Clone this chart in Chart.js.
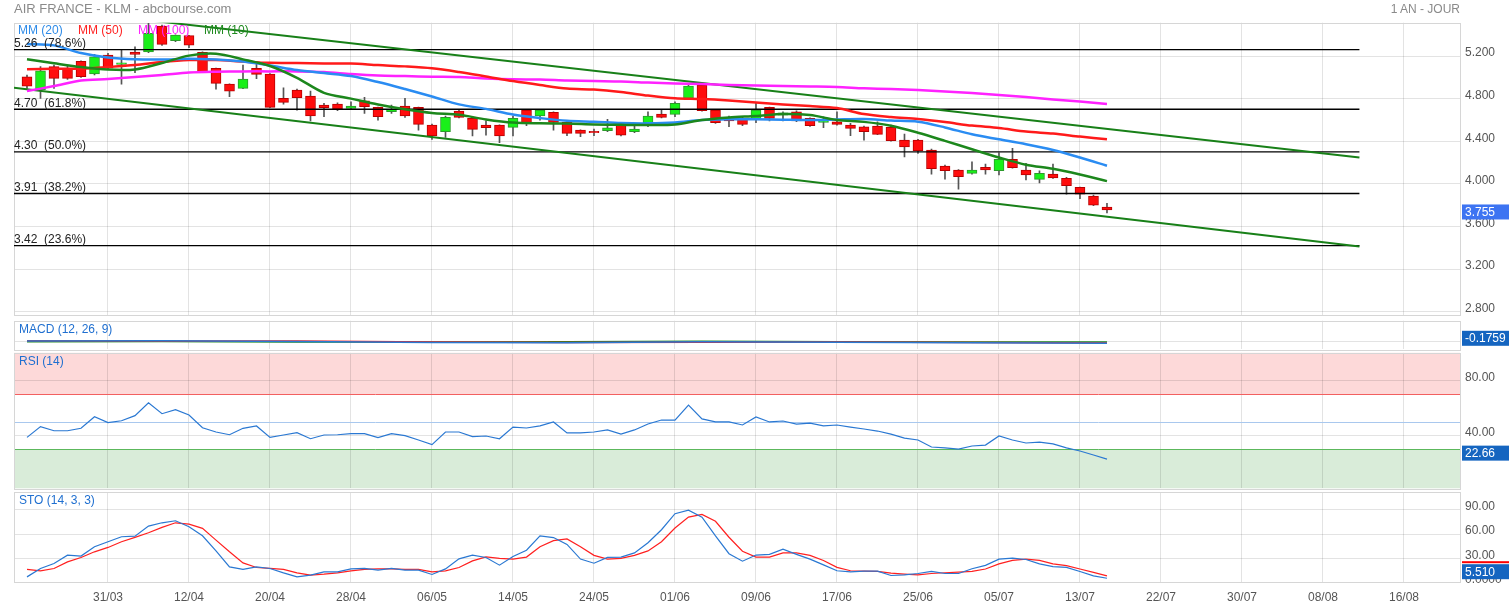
<!DOCTYPE html>
<html>
<head>
<meta charset="utf-8">
<title>AIR FRANCE - KLM</title>
<script src="https://cdn.jsdelivr.net/npm/chart.js@4.4.0/dist/chart.umd.min.js"></script>
<style>
  body { margin: 0; background: #fff; }
  #wrap { position: relative; width: 1509px; height: 607px; overflow: hidden; font-family: "Liberation Sans", Arial, sans-serif; }
  #wrap canvas { position: absolute; left: 0; top: 0; }
  .lbl { position: absolute; white-space: nowrap; font-size: 12px; line-height: 14px; z-index: 5; }
</style>
</head>
<body>
<div id="wrap">
  <canvas id="mainChart" width="1509" height="607"></canvas>
  <canvas id="macdChart" width="1509" height="607"></canvas>
  <canvas id="rsiChart" width="1509" height="607"></canvas>
  <canvas id="stoChart" width="1509" height="607"></canvas>
  <div class="lbl" style="left:14px;top:1px;font-size:13px;line-height:16px;color:#8a8a8a">AIR FRANCE - KLM - abcbourse.com</div>
  <div class="lbl" style="right:49px;top:2px;color:#8a8a8a">1 AN - JOUR</div>
  <div class="lbl" style="left:18px;top:23px;color:#2e8be8">MM (20)</div>
  <div class="lbl" style="left:78px;top:23px;color:#ff2222">MM (50)</div>
  <div class="lbl" style="left:138px;top:23px;color:#ff22ff">MM (100)</div>
  <div class="lbl" style="left:204px;top:23px;color:#1f8a1f">MM (10)</div>
  <div class="lbl" style="left:19px;top:322px;color:#1f6fd0">MACD (12, 26, 9)</div>
  <div class="lbl" style="left:19px;top:354px;color:#1f6fd0">RSI (14)</div>
  <div class="lbl" style="left:19px;top:493px;color:#1f6fd0">STO (14, 3, 3)</div>
</div>
<script>
// x axis: one slot per trading session, a date label every 6 sessions
const tickIndex = [6, 12, 18, 24, 30, 36, 42, 48, 54, 60, 66, 72, 78, 84, 90, 96, 102];
const tickLabels = ['31/03', '12/04', '20/04', '28/04', '06/05', '14/05', '24/05', '01/06', '09/06',
  '17/06', '25/06', '05/07', '13/07', '22/07', '30/07', '08/08', '16/08'];

// daily candles
const candleOpen = [5.006, 4.881, 5.100, 5.081, 5.150, 5.031, 5.209, 5.122, 5.238, 5.238,
  5.482, 5.344, 5.391, 5.235, 5.085, 4.937, 4.897, 5.085, 5.031, 4.803,
  4.881, 4.824, 4.740, 4.749, 4.709, 4.780, 4.718, 4.677, 4.731, 4.718,
  4.552, 4.489, 4.684, 4.615, 4.552, 4.552, 4.530, 4.693, 4.639, 4.671,
  4.580, 4.505, 4.493, 4.499, 4.549, 4.489, 4.574, 4.655, 4.653, 4.803,
  4.928, 4.693, 4.615, 4.615, 4.606, 4.718, 4.646, 4.677, 4.615, 4.577,
  4.583, 4.552, 4.536, 4.543, 4.530, 4.411, 4.411, 4.317, 4.167, 4.130,
  4.099, 4.155, 4.123, 4.230, 4.130, 4.042, 4.092, 4.052, 3.967, 3.885, 3.782];
const candleHigh = [5.022, 5.100, 5.115, 5.115, 5.155, 5.216, 5.225, 5.256, 5.287, 5.507,
  5.490, 5.400, 5.395, 5.240, 5.088, 4.940, 5.115, 5.146, 5.035, 4.902,
  4.890, 4.871, 4.756, 4.761, 4.771, 4.812, 4.720, 4.740, 4.803, 4.720,
  4.561, 4.637, 4.690, 4.620, 4.592, 4.555, 4.637, 4.695, 4.695, 4.677,
  4.583, 4.508, 4.514, 4.606, 4.568, 4.561, 4.677, 4.700, 4.771, 4.937,
  4.944, 4.695, 4.637, 4.630, 4.761, 4.720, 4.677, 4.686, 4.620, 4.630,
  4.677, 4.568, 4.543, 4.583, 4.552, 4.468, 4.418, 4.327, 4.177, 4.133,
  4.207, 4.186, 4.292, 4.333, 4.192, 4.123, 4.186, 4.061, 3.970, 3.895, 3.817];
const candleLow = [4.897, 4.803, 4.897, 4.981, 5.000, 5.022, 5.075, 4.937, 5.043, 5.231,
  5.300, 5.334, 5.278, 5.043, 4.890, 4.818, 4.893, 4.987, 4.715, 4.749,
  4.693, 4.590, 4.630, 4.686, 4.702, 4.662, 4.599, 4.662, 4.624, 4.505,
  4.418, 4.437, 4.620, 4.449, 4.458, 4.386, 4.449, 4.546, 4.599, 4.505,
  4.452, 4.442, 4.452, 4.489, 4.449, 4.480, 4.536, 4.620, 4.630, 4.800,
  4.683, 4.568, 4.536, 4.546, 4.574, 4.590, 4.590, 4.583, 4.540, 4.527,
  4.552, 4.452, 4.411, 4.462, 4.402, 4.254, 4.286, 4.092, 4.045, 3.951,
  4.092, 4.092, 4.083, 4.148, 4.036, 4.010, 4.052, 3.904, 3.860, 3.795, 3.728];
const candleClose = [4.918, 5.062, 4.991, 4.991, 5.006, 5.193, 5.085, 5.137, 5.216, 5.413,
  5.310, 5.397, 5.303, 5.053, 4.944, 4.871, 4.984, 5.028, 4.718, 4.765,
  4.810, 4.639, 4.715, 4.702, 4.731, 4.724, 4.630, 4.700, 4.639, 4.559,
  4.449, 4.624, 4.624, 4.512, 4.527, 4.449, 4.615, 4.574, 4.693, 4.577,
  4.474, 4.474, 4.480, 4.527, 4.458, 4.514, 4.637, 4.624, 4.756, 4.918,
  4.686, 4.574, 4.590, 4.559, 4.693, 4.615, 4.668, 4.590, 4.546, 4.599,
  4.559, 4.521, 4.489, 4.465, 4.405, 4.348, 4.311, 4.142, 4.123, 4.067,
  4.130, 4.130, 4.230, 4.151, 4.083, 4.099, 4.057, 3.982, 3.904, 3.801, 3.755];

// moving averages, read every second session
const maIndex = [0, 2, 4, 6, 8, 10, 12, 14, 16, 18, 20, 22, 24, 26, 28, 30, 32, 34, 36, 38, 40,
  42, 44, 46, 48, 50, 52, 54, 56, 58, 60, 62, 64, 66, 68, 70, 72, 74, 76, 78, 80];
const mm20 = [5.313, 5.300, 5.228, 5.186, 5.169, 5.167, 5.174, 5.167, 5.148, 5.111, 5.069,
  5.040, 5.012, 4.956, 4.890, 4.820, 4.746, 4.704, 4.651, 4.618, 4.592,
  4.583, 4.571, 4.568, 4.576, 4.599, 4.606, 4.606, 4.602, 4.599, 4.604,
  4.608, 4.594, 4.583, 4.530, 4.465, 4.418, 4.372, 4.318, 4.247, 4.170];
const mm50 = [5.075, 5.080, 5.083, 5.097, 5.115, 5.144, 5.162, 5.162, 5.148, 5.136, 5.134,
  5.130, 5.130, 5.115, 5.103, 5.085, 5.050, 5.008, 4.965, 4.928, 4.895,
  4.885, 4.862, 4.829, 4.803, 4.796, 4.782, 4.763, 4.745, 4.731, 4.712,
  4.655, 4.627, 4.608, 4.580, 4.547, 4.524, 4.491, 4.472, 4.444, 4.418];
const mm100 = [4.871, 4.918, 4.970, 4.984, 5.003, 5.022, 5.045, 5.053, 5.056, 5.056, 5.056,
  5.050, 5.031, 5.017, 5.012, 5.006, 5.003, 4.989, 4.981, 4.979, 4.970,
  4.965, 4.961, 4.951, 4.942, 4.937, 4.928, 4.923, 4.918, 4.914, 4.909,
  4.897, 4.890, 4.881, 4.867, 4.853, 4.834, 4.815, 4.792, 4.773, 4.749];
const mm10 = [5.169, 5.132, 5.097, 5.073, 5.074, 5.134, 5.204, 5.221, 5.169, 5.106, 4.995,
  4.855, 4.800, 4.745, 4.700, 4.665, 4.648, 4.605, 4.575, 4.568, 4.566,
  4.558, 4.554, 4.552, 4.557, 4.599, 4.624, 4.637, 4.655, 4.646, 4.599,
  4.582, 4.545, 4.480, 4.404, 4.325, 4.248, 4.180, 4.142, 4.088, 4.026];

// fibonacci retracements and trend channel
const fibLevels = [5.26, 4.70, 4.30, 3.91, 3.42];
const fibRatios = ['78.6%', '61.8%', '50.0%', '38.2%', '23.6%'];
const fibSpan = [-0.963, 98.7];
const channelUpper = [[5, 5.593], [98.7, 4.248]];
const channelLower = [[-0.963, 4.902], [98.7, 3.411]];

// MACD (12, 26, 9)
const macdIndex = [0, 10, 20, 30, 40, 50, 60, 70, 80];
const macdLine = [0.08, 0.10, 0.02, -0.08, -0.10, -0.02, -0.05, -0.12, -0.1759];
const macdSignal = [0.10, 0.08, 0.06, -0.04, -0.08, -0.06, -0.04, -0.09, -0.15];
const macdHist = [-0.02, 0.02, -0.04, -0.04, -0.02, 0.04, -0.01, -0.03, -0.03];

// RSI (14)
const rsi = [38.5, 46.3, 43.3, 43.3, 45.1, 53.5, 49.2, 50.6, 54.3, 63.7,
  55.7, 58.6, 54.8, 45.5, 42.4, 40.4, 45.1, 46.8, 38.5, 40.2,
  41.9, 37.5, 40.2, 40.4, 41.2, 41.2, 38.3, 41.2, 39.7, 36.6,
  33.2, 42.4, 42.4, 39.0, 39.5, 37.5, 46.0, 45.3, 46.8, 49.7,
  41.7, 41.7, 42.4, 43.9, 40.9, 43.9, 48.2, 51.1, 51.1, 62.0,
  51.9, 49.7, 49.7, 47.5, 53.3, 49.7, 50.4, 48.2, 48.9, 46.8,
  47.5, 46.0, 44.6, 43.1, 40.9, 38.0, 36.6, 31.5, 30.8, 30.0,
  32.2, 32.9, 39.5, 36.6, 34.4, 35.1, 33.7, 30.8, 28.6, 25.7, 22.66];
const rsiLevels = [70, 50, 30];

// STO (14, 3, 3)
const stoK = [7.2, 17.6, 23.8, 34.1, 32.9, 44.4, 50.6, 56.8, 57.6, 70.0,
  74.1, 76.6, 69.2, 58.0, 39.4, 19.6, 16.4, 19.6, 17.6, 12.1,
  7.2, 9.3, 13.4, 13.4, 17.1, 17.6, 15.5, 17.6, 15.5, 15.5,
  10.2, 17.1, 29.5, 34.1, 31.2, 21.7, 32.5, 40.1, 57.9, 55.8,
  47.3, 29.2, 24.1, 31.3, 31.7, 36.8, 49.4, 65.5, 85.3, 89.6,
  81.1, 57.9, 35.9, 26.6, 34.2, 35.1, 41.4, 35.1, 29.2, 22.0,
  14.8, 13.5, 14.4, 14.4, 8.9, 9.7, 11.4, 13.9, 11.4, 11.4,
  17.3, 21.5, 29.2, 30.4, 28.7, 23.2, 19.9, 19.0, 13.9, 8.4, 5.51];
const stoD = [16.4, 14.6, 17.6, 25.8, 31.2, 38.2, 43.6, 50.6, 56.0, 61.7,
  68.4, 74.1, 72.5, 67.2, 52.7, 38.2, 24.5, 18.8, 17.6, 16.4,
  12.1, 9.3, 10.5, 12.1, 14.6, 16.4, 17.1, 17.1, 16.4, 16.4,
  13.4, 14.6, 18.8, 27.0, 32.0, 30.0, 29.2, 31.7, 44.4, 52.0,
  54.1, 44.4, 33.8, 29.2, 30.0, 33.8, 39.3, 50.7, 67.6, 81.1,
  84.5, 76.0, 56.2, 38.9, 31.7, 31.7, 36.8, 36.8, 33.8, 27.5,
  19.0, 14.8, 14.4, 13.9, 11.8, 10.6, 9.7, 11.4, 12.3, 13.1,
  13.9, 16.9, 23.2, 27.5, 29.2, 27.5, 23.2, 21.1, 16.9, 12.7, 8.5];

// ---- layout ----
const FONT = '"Liberation Sans", Arial, sans-serif';
const H = 607, AXIS_W = 49, LEFT = 14;
const GRID = 'rgba(0,0,0,0.11)';

function xAxis(showLabels) {
  return {
    type: 'linear', min: -0.963, max: 106.15, offset: false,
    afterBuildTicks: s => { s.ticks = tickIndex.map(v => ({ value: v })); },
    afterFit: s => { s.height = showLabels ? 24 : 0; },
    grid: { color: GRID, drawTicks: false, offset: false },
    border: { display: false },
    ticks: {
      display: showLabels, autoSkip: false, maxRotation: 0, padding: 8,
      color: '#555', font: { size: 12, family: FONT },
      callback: v => tickLabels[tickIndex.indexOf(v)]
    }
  };
}

function yAxis(min, max, ticks, fmt) {
  return {
    position: 'right', min: min, max: max,
    afterBuildTicks: s => { s.ticks = ticks.map(v => ({ value: v })); },
    afterFit: s => { s.width = AXIS_W; },
    grid: { color: GRID, drawTicks: false },
    border: { display: false },
    ticks: {
      display: !!fmt, padding: 5, labelOffset: -3,
      color: '#555', font: { size: 12, family: FONT },
      callback: fmt || (() => '')
    }
  };
}

const frame = {
  id: 'frame',
  beforeDatasetsDraw(chart) {
    const a = chart.chartArea, c = chart.ctx;
    c.save();
    c.strokeStyle = '#d6d6d6';
    c.lineWidth = 1;
    c.strokeRect(Math.round(a.left) + 0.5, Math.round(a.top) + 0.5,
      Math.round(a.right - a.left), Math.round(a.bottom - a.top));
    c.restore();
  }
};

function valueBox(text, value, color, shift, marker) {
  return {
    id: 'valueBox',
    afterDraw(chart) {
      const a = chart.chartArea, c = chart.ctx;
      const cy = Math.min(chart.scales.y.getPixelForValue(value) + shift, a.bottom - 11);
      c.save();
      if (marker) {
        c.fillStyle = marker;
        c.fillRect(a.right + 2, cy - 10.5, AXIS_W, 2);
      }
      c.fillStyle = color;
      c.fillRect(a.right + 2, cy - 7.5, AXIS_W, 15);
      c.fillStyle = '#fff';
      c.font = '12px ' + FONT;
      c.textBaseline = 'middle';
      c.fillText(text, a.right + 5, cy + 0.5);
      c.restore();
    }
  };
}

function baseOptions(top, bottom, xLabels, yCfg) {
  return {
    responsive: false,
    animation: false,
    layout: { padding: { left: LEFT, right: 0, top: top, bottom: H - bottom - (xLabels ? 24 : 0) } },
    plugins: { legend: { display: false }, tooltip: { enabled: false } },
    scales: { x: xAxis(xLabels), y: yCfg }
  };
}

function line(xs, ys, color, width, order, tension) {
  return {
    type: 'line', data: xs.map((x, i) => ({ x: x, y: ys[i] })),
    borderColor: color, borderWidth: width, pointRadius: 0, tension: tension || 0,
    fill: false, order: order
  };
}

// ---- main price panel ----
const up = candleOpen.map((o, i) => candleClose[i] >= o);
const mainSets = [
  {
    type: 'bar', order: 20, grouped: false, barThickness: 1,
    data: candleOpen.map((_, i) => ({ x: i, y: [candleLow[i], candleHigh[i]] })),
    backgroundColor: '#555'
  },
  {
    type: 'bar', order: 19, grouped: false, barThickness: 10, minBarLength: 1,
    borderWidth: 1, borderSkipped: false,
    data: candleOpen.map((o, i) => ({ x: i, y: [o, candleClose[i]] })),
    backgroundColor: up.map(u => u ? '#19f019' : '#ff0d0d'),
    borderColor: up.map(u => u ? '#2c9a2c' : '#b90000')
  }
];
fibLevels.forEach(l => mainSets.push(line(fibSpan, [l, l], '#000', 1.4, 10)));
[channelUpper, channelLower].forEach(ch =>
  mainSets.push(line(ch.map(p => p[0]), ch.map(p => p[1]), '#188018', 2, 9)));
mainSets.push(line(maIndex, mm100, '#ff22ff', 2.5, 4, 0.3));
mainSets.push(line(maIndex, mm50, '#ff1a1a', 2.5, 3, 0.3));
mainSets.push(line(maIndex, mm20, '#2a8cf2', 2.5, 2, 0.3));
mainSets.push(line(maIndex, mm10, '#1c871c', 2.5, 1, 0.3));

const fibText = {
  id: 'fibText',
  afterDatasetsDraw(chart) {
    const c = chart.ctx, y = chart.scales.y, a = chart.chartArea;
    c.save();
    c.font = '12px ' + FONT;
    c.fillStyle = '#222';
    c.textBaseline = 'alphabetic';
    fibLevels.forEach((l, i) => {
      c.fillText(l.toFixed(2) + '  (' + fibRatios[i] + ')', a.left, y.getPixelForValue(l) - 2.5);
    });
    c.restore();
  }
};

new Chart(document.getElementById('mainChart'), {
  type: 'bar',
  data: { datasets: mainSets },
  options: baseOptions(22.7, 315, false,
    yAxis(2.769, 5.513, [2.8, 3.2, 3.6, 4.0, 4.4, 4.8, 5.2], v => v.toFixed(3))),
  plugins: [frame, fibText,
    valueBox(candleClose[candleClose.length - 1].toFixed(3), candleClose[candleClose.length - 1], '#3d74f2', 2)]
});

// ---- MACD panel ----
new Chart(document.getElementById('macdChart'), {
  type: 'line',
  data: {
    datasets: [
      line(macdIndex, macdHist, '#1f8a1f', 1.5, 3),
      line(macdIndex, macdSignal, '#ee2222', 1.5, 2),
      line(macdIndex, macdLine, '#2a78d2', 1.5, 1)
    ]
  },
  options: baseOptions(320.7, 349.3, false, yAxis(-0.8, 2.2, [0], null)),
  plugins: [frame, valueBox(macdLine[macdLine.length - 1].toFixed(4), macdLine[macdLine.length - 1], '#1565c0', 0)]
});

// ---- RSI panel ----
const rsiZones = {
  id: 'rsiZones',
  beforeDraw(chart) {
    const a = chart.chartArea, c = chart.ctx, y = chart.scales.y;
    const yHi = y.getPixelForValue(rsiLevels[0]), yLo = y.getPixelForValue(rsiLevels[2]);
    c.save();
    c.fillStyle = '#fdd9d9';
    c.fillRect(a.left, a.top, a.right - a.left, yHi - a.top);
    c.fillStyle = '#d9ecd9';
    c.fillRect(a.left, yLo, a.right - a.left, a.bottom - yLo);
    c.restore();
  },
  beforeDatasetsDraw(chart) {
    const a = chart.chartArea, c = chart.ctx, y = chart.scales.y;
    const cols = ['#f26060', '#a9c8ee', '#5cb85c'];
    c.save();
    c.lineWidth = 1;
    rsiLevels.forEach((l, i) => {
      const py = Math.round(y.getPixelForValue(l)) + 0.5;
      c.strokeStyle = cols[i];
      c.beginPath(); c.moveTo(a.left, py); c.lineTo(a.right, py); c.stroke();
    });
    c.restore();
  }
};

new Chart(document.getElementById('rsiChart'), {
  type: 'line',
  data: { datasets: [line(rsi.map((_, i) => i), rsi, '#2a78d2', 1.2, 1)] },
  options: baseOptions(352.8, 488.3, false, yAxis(1.45, 100, [40, 80], v => v.toFixed(2))),
  plugins: [rsiZones, frame, valueBox(rsi[rsi.length - 1].toFixed(2), rsi[rsi.length - 1], '#1565c0', -6)]
});

// ---- STO panel ----
new Chart(document.getElementById('stoChart'), {
  type: 'line',
  data: {
    datasets: [
      line(stoD.map((_, i) => i), stoD, '#ff2020', 1.2, 2),
      line(stoK.map((_, i) => i), stoK, '#2a78d2', 1.2, 1)
    ]
  },
  options: baseOptions(492.3, 582.7, true,
    yAxis(0, 111.8, [0, 30, 60, 90], v => v === 0 ? '0.0000' : v.toFixed(2))),
  plugins: [frame, valueBox(stoK[stoK.length - 1].toFixed(3), stoK[stoK.length - 1], '#1565c0', 0, '#ff0000')]
});
</script>
</body>
</html>
